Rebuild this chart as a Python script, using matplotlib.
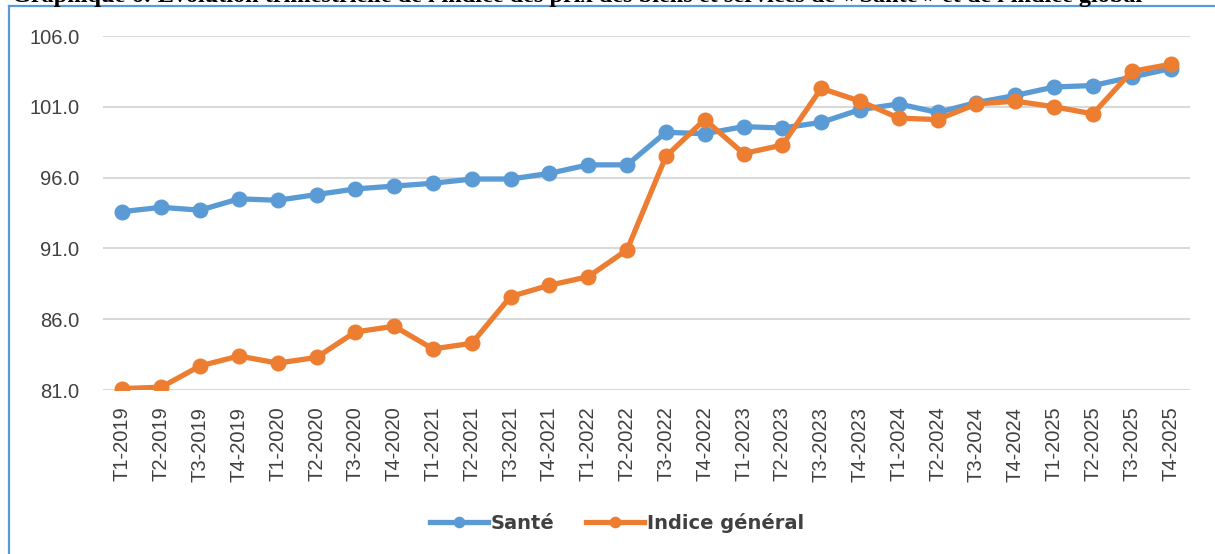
import matplotlib.pyplot as plt
from matplotlib.lines import Line2D

# quarters and index values
quarters = ['T1-2019', 'T2-2019', 'T3-2019', 'T4-2019',
            'T1-2020', 'T2-2020', 'T3-2020', 'T4-2020',
            'T1-2021', 'T2-2021', 'T3-2021', 'T4-2021',
            'T1-2022', 'T2-2022', 'T3-2022', 'T4-2022',
            'T1-2023', 'T2-2023', 'T3-2023', 'T4-2023',
            'T1-2024', 'T2-2024', 'T3-2024', 'T4-2024',
            'T1-2025', 'T2-2025', 'T3-2025', 'T4-2025']
sante = [93.6, 93.9, 93.7, 94.5, 94.4, 94.8, 95.2, 95.4,
         95.6, 95.9, 95.9, 96.3, 96.9, 96.9, 99.2, 99.1,
         99.6, 99.5, 99.9, 100.8, 101.2, 100.6, 101.3, 101.8,
         102.4, 102.5, 103.1, 103.7]
indice_general = [81.1, 81.2, 82.7, 83.4, 82.9, 83.3, 85.1, 85.5,
                  83.9, 84.3, 87.6, 88.4, 89.0, 90.9, 97.5, 100.1,
                  97.7, 98.3, 102.3, 101.4, 100.2, 100.1, 101.2, 101.4,
                  101.0, 100.5, 103.5, 104.0]
yticks = [81.0, 86.0, 91.0, 96.0, 101.0, 106.0]

blue = '#5B9BD5'
orange = '#ED7D31'
txt = '#404040'

fig = plt.figure(figsize=(12.15, 5.54), dpi=100)
ax = fig.add_axes([103/1215, 1-390/554, (1190-103)/1215, (390-36)/554])

x = range(len(quarters))
ax.plot(x, sante, color=blue, lw=3.8, marker='o', ms=10.5, label='Santé', zorder=3)
ax.plot(x, indice_general, color=orange, lw=3.8, marker='o', ms=10.5,
        label='Indice général', zorder=4)

ax.set_xlim(-0.5, len(quarters)-0.5)
ax.set_ylim(81, 106)
ax.set_yticks(yticks)
ax.set_yticklabels(['%.1f' % v for v in yticks], fontsize=14.5,
                   family='Liberation Sans', color=txt)
ax.set_xticks(list(x))
ax.set_xticklabels(quarters, rotation=90, fontsize=14.5,
                   family='Liberation Sans', color=txt)
ax.tick_params(length=0, pad=12)
ax.tick_params(axis='y', pad=17)
ax.grid(axis='y', color='#D9D9D9', lw=1.5)
ax.set_axisbelow(True)
for s in ax.spines.values():
    s.set_visible(False)

leg = fig.legend(loc='center', bbox_to_anchor=(617/1215, 1-523/554), ncol=2,
                 frameon=False, handlelength=3.0, handletextpad=0.15,
                 columnspacing=1.6, markerscale=0.7,
                 prop={'family': 'DejaVu Sans', 'weight': 'bold', 'size': 14})
for t in leg.get_texts():
    t.set_color(txt)

# blue frame of the chart box (left and top visible)
fig.add_artist(Line2D([9/1215, 9/1215], [0, 1-6/554], color=blue, lw=1.6))
fig.add_artist(Line2D([9/1215, 1], [1-6/554, 1-6/554], color=blue, lw=1.6))

# caption, cut off at the top of the picture as in the source
fig.text(12/1215, 1-2/554,
         "Graphique 6: Evolution trimestrielle de l'indice des prix des biens "
         "et services de « Santé » et de l'indice global",
         family='Liberation Serif', weight='bold', fontsize=17.5,
         va='baseline', ha='left', color='black')

fig.savefig('out.png', dpi=100)
